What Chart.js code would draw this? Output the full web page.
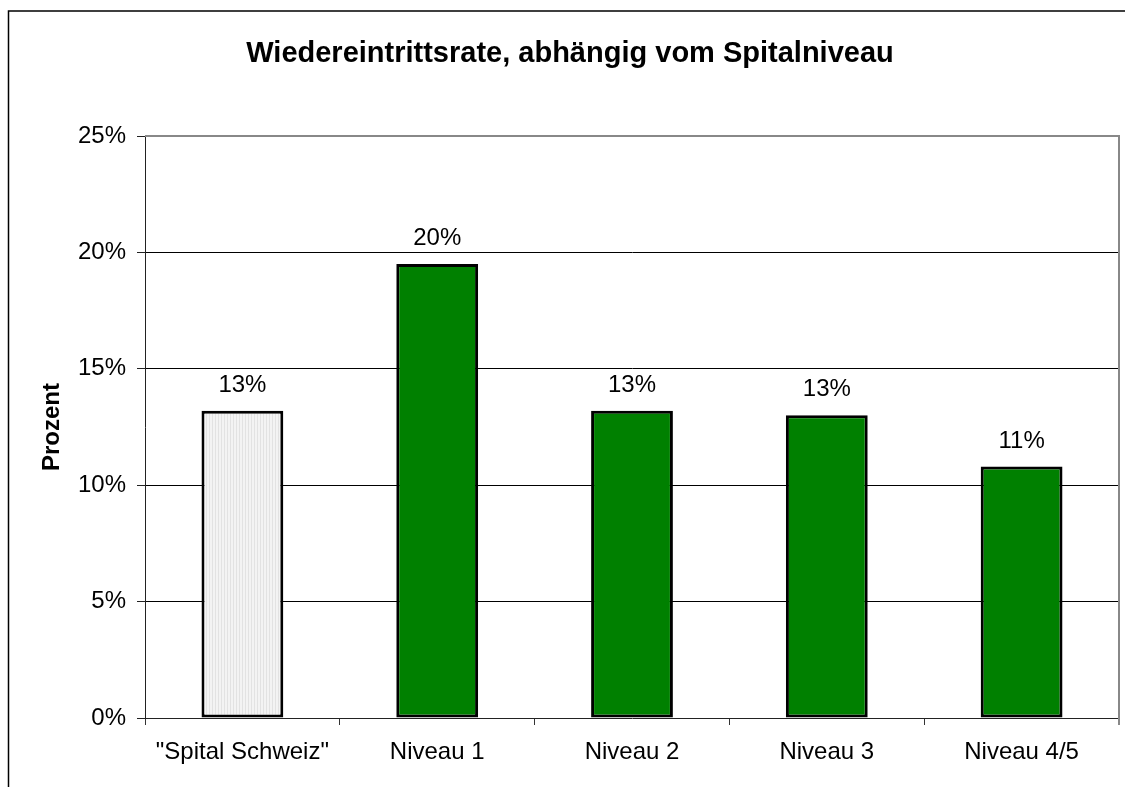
<!DOCTYPE html>
<html>
<head>
<meta charset="utf-8">
<script src="https://cdn.jsdelivr.net/npm/chart.js@4"></script>
<style>
  html, body { margin: 0; padding: 0; background: #fff; }
  #wrap { width: 1125px; height: 787px; }
</style>
</head>
<body>
<div id="wrap"><canvas id="chartRate" width="1125" height="787"></canvas></div>
<script>
const TITLE = "Wiedereintrittsrate, abhängig vom Spitalniveau";
const categories = ['"Spital Schweiz"', "Niveau 1", "Niveau 2", "Niveau 3", "Niveau 4/5"];
const rates = [13.2, 19.5, 13.2, 13.0, 10.8];
const yTicks = [0, 5, 10, 15, 20, 25];
const yLabel = "Prozent";

const FONT = "Arial, 'Liberation Sans', sans-serif";

function stripePattern() {
  const c = document.createElement("canvas");
  c.width = 3;
  c.height = 1;
  const g = c.getContext("2d");
  g.fillStyle = "#f3f3f3";
  g.fillRect(0, 0, 3, 1);
  g.fillStyle = "#e2e2e2";
  g.fillRect(2, 0, 1, 1);
  return g.createPattern(c, "repeat");
}

// frame around the whole chart, title, plot border (top/right)
const framePlugin = {
  id: "frame",
  beforeDraw(chart) {
    const ctx = chart.ctx;
    ctx.save();
    ctx.strokeStyle = "#000";
    ctx.lineWidth = 1.5;
    ctx.beginPath();
    ctx.moveTo(8.5, 800);
    ctx.lineTo(8.5, 11);
    ctx.lineTo(1140, 11);
    ctx.stroke();

    ctx.fillStyle = "#000";
    ctx.font = "bold 29px " + FONT;
    ctx.textAlign = "center";
    ctx.textBaseline = "alphabetic";
    ctx.fillText(TITLE, 570, 62);
    ctx.restore();
  },
  afterDraw(chart) {
    const ctx = chart.ctx;
    const a = chart.chartArea;
    ctx.save();
    ctx.strokeStyle = "#888";
    ctx.lineWidth = 2;
    ctx.beginPath();
    ctx.moveTo(a.left, a.top);
    ctx.lineTo(a.right, a.top);
    ctx.lineTo(a.right, a.bottom + 7);
    ctx.stroke();
    ctx.restore();
  },
};

const valueLabels = {
  id: "valueLabels",
  afterDatasetsDraw(chart) {
    const ctx = chart.ctx;
    const meta = chart.getDatasetMeta(0);
    ctx.save();
    ctx.fillStyle = "#000";
    ctx.font = "24px " + FONT;
    ctx.textAlign = "center";
    ctx.textBaseline = "alphabetic";
    meta.data.forEach((bar, i) => {
      ctx.fillText(Math.round(rates[i]) + "%", bar.x, bar.y - 19);
    });
    ctx.restore();
  },
};

const fills = categories.map((c, i) => (i === 0 ? stripePattern() : "#008000"));

new Chart(document.getElementById("chartRate"), {
  type: "bar",
  data: {
    labels: categories,
    datasets: [
      {
        data: rates,
        backgroundColor: fills,
        borderColor: "#000",
        borderWidth: 3,
        borderSkipped: false,
        categoryPercentage: 1,
        barPercentage: 0.42,
      },
    ],
  },
  options: {
    responsive: false,
    animation: false,
    devicePixelRatio: 1,
    layout: { padding: { left: 0, right: 6, top: 136, bottom: 0 } },
    plugins: {
      legend: { display: false },
      title: { display: false },
      tooltip: { enabled: false },
    },
    scales: {
      x: {
        afterFit: (s) => { s.height = 69; },
        grid: {
          offset: true,
          drawOnChartArea: false,
          tickLength: 7,
          color: "#333",
        },
        border: { color: "#222", width: 1 },
        ticks: {
          color: "#000",
          padding: 13,
          font: { family: FONT, size: 24 },
        },
      },
      y: {
        min: yTicks[0],
        max: yTicks[yTicks.length - 1],
        afterFit: (s) => { s.width = 145; },
        afterBuildTicks: (s) => { s.ticks = yTicks.map((v) => ({ value: v })); },
        grid: {
          tickLength: 8,
          color: (c) => (c.tick.value === 0 || c.tick.value === 25 ? "rgba(0,0,0,0)" : "#000"),
          tickColor: "#222",
        },
        border: { color: "#222", width: 1 },
        ticks: {
          color: "#000",
          padding: 11,
          font: { family: FONT, size: 24 },
          callback: (v) => v + "%",
        },
        title: {
          display: true,
          text: yLabel,
          color: "#000",
          font: { family: FONT, size: 24, weight: "bold" },
          padding: { top: 38, bottom: 0 },
        },
      },
    },
  },
  plugins: [framePlugin, valueLabels],
});
</script>
</body>
</html>
